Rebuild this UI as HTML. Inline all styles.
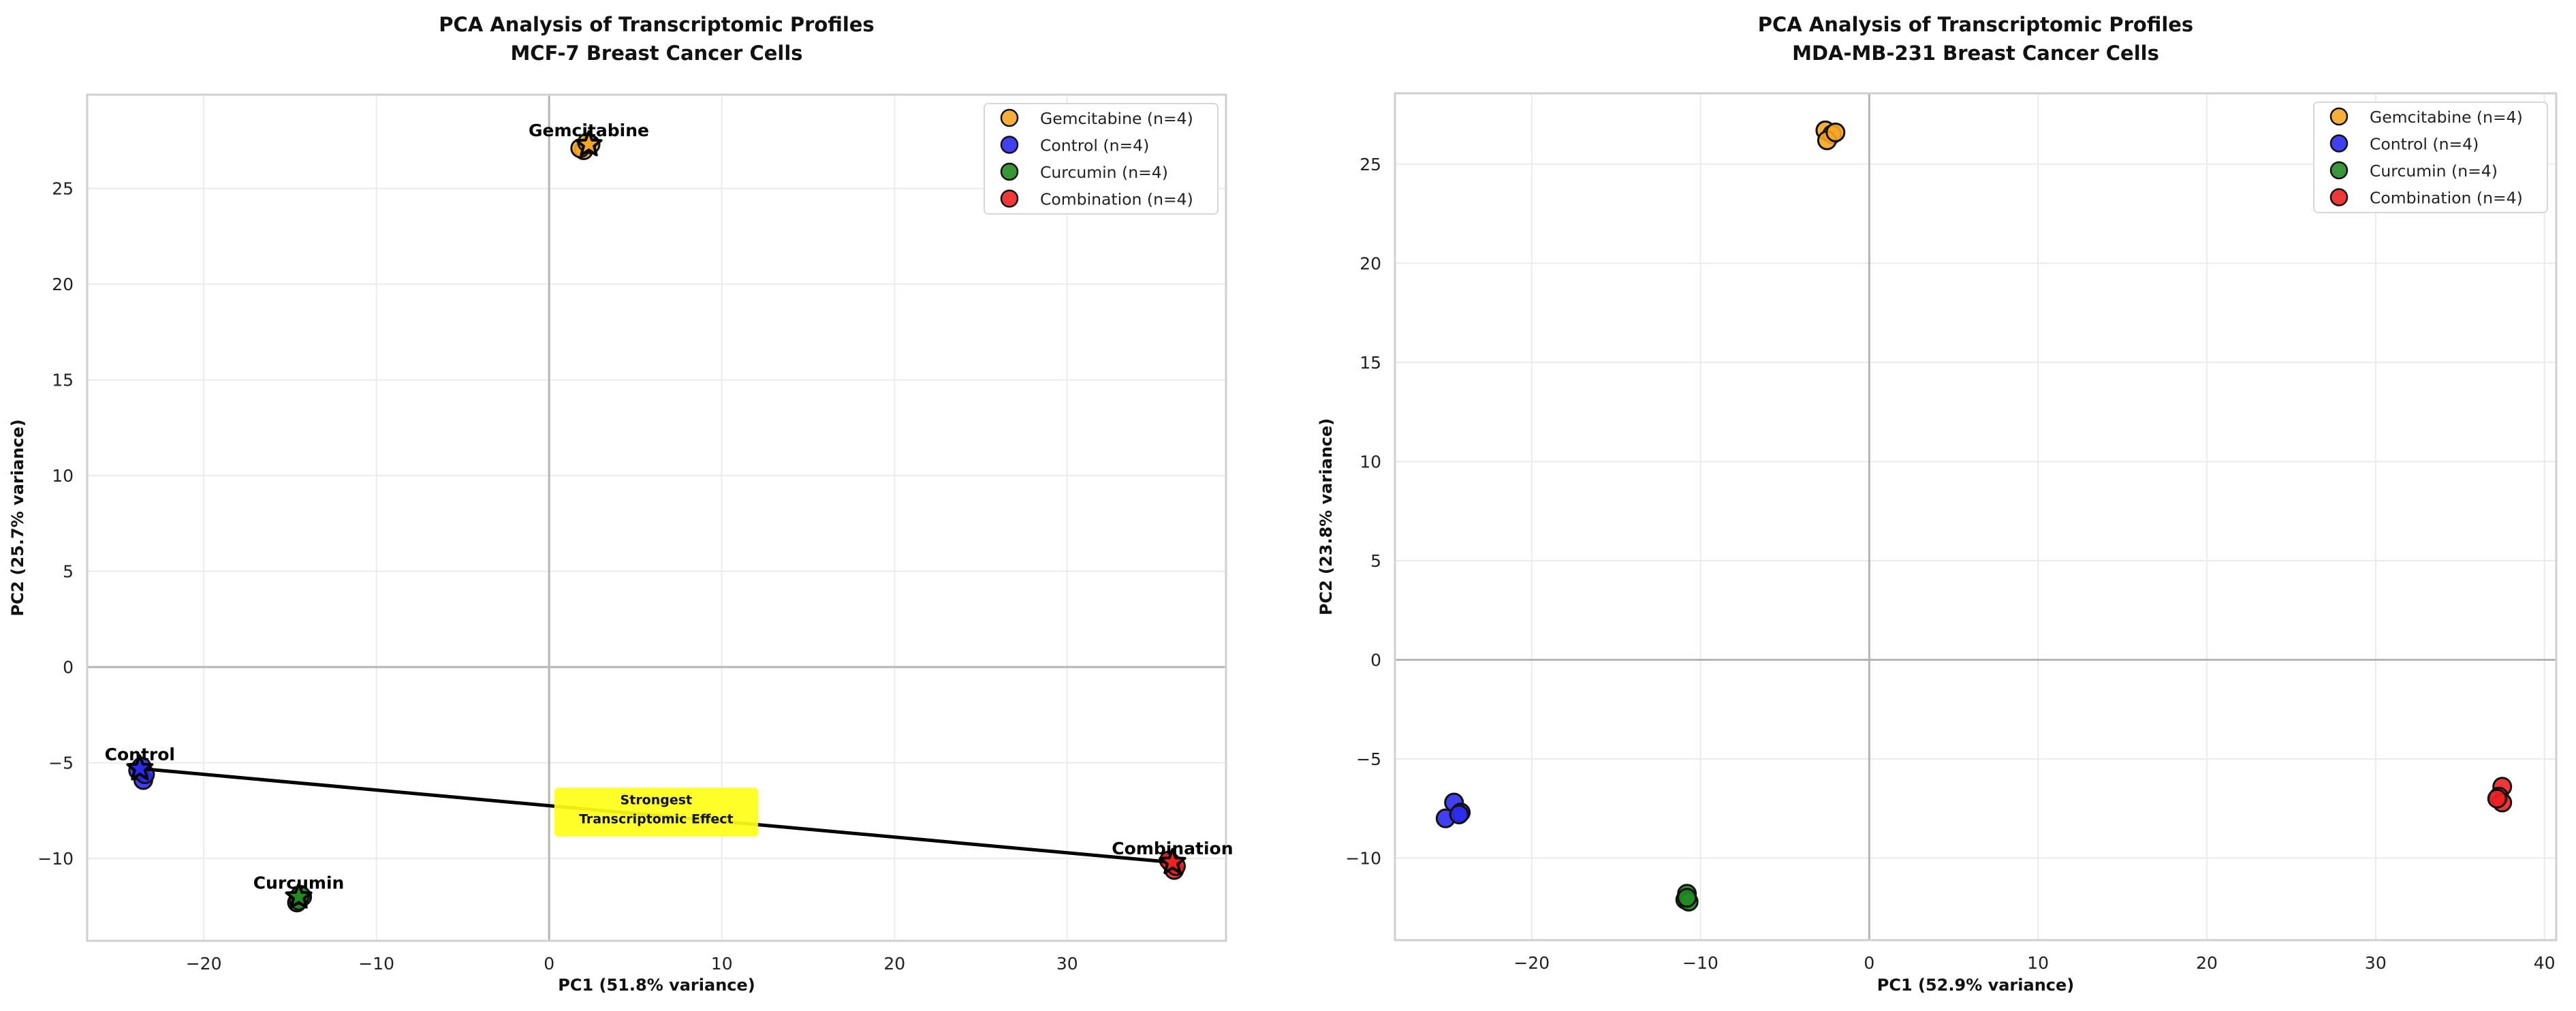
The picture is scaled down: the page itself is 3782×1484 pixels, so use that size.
<!DOCTYPE html>
<html><head><meta charset="utf-8"><style>
html,body{margin:0;padding:0;background:#fff;}
svg{display:block;font-family:"DejaVu Sans","Liberation Sans",sans-serif;}
</style></head>
<body>
<svg id="fig" width="3782" height="1484" viewBox="0 0 3782 1484" xmlns="http://www.w3.org/2000/svg">
<rect width="3782" height="1484" fill="#fff"/>
</svg>
<script>
const groups = ["Gemcitabine", "Control", "Curcumin", "Combination"];
const colors = ["#f5a623", "#2b2bf0", "#228b22", "#ee2222"];
const xTicksL = [-20, -10, 0, 10, 20, 30];
const yTicksL = [-10, -5, 0, 5, 10, 15, 20, 25];
const xTicksR = [-20, -10, 0, 10, 20, 30, 40];
const yTicksR = [-10, -5, 0, 5, 10, 15, 20, 25];
// MCF-7 sample points (PC1, PC2)
const mcfX = [[2.0, 2.4, 1.8, 2.2], [-23.5, -23.8, -23.6, -23.4], [-14.6, -14.3, -14.5, -14.4], [36.2, 36.0, 36.3, 35.9]];
const mcfY = [[27.0, 27.3, 27.1, 27.4], [-5.9, -5.4, -5.2, -5.6], [-12.3, -12.0, -12.2, -11.9], [-10.6, -10.2, -10.4, -10.1]];
// group centroids (stars) for MCF-7
const mcfCX = [2.3, -23.7, -14.5, 36.1];
const mcfCY = [27.3, -5.3, -12.0, -10.2];
// MDA-MB-231 sample points
const mdaX = [[-2.6, -2.2, -2.5, -2.0], [-24.6, -24.2, -25.1, -24.3], [-10.8, -10.9, -10.7, -10.8], [37.5, 37.3, 37.5, 37.2]];
const mdaY = [[26.7, 26.5, 26.2, 26.6], [-7.2, -7.7, -8.0, -7.8], [-11.8, -12.1, -12.2, -12.0], [-6.4, -6.9, -7.2, -7.0]];

const NS = "http://www.w3.org/2000/svg";
const svg = document.getElementById("fig");
function mk(tag, attrs, parent, text) {
  const e = document.createElementNS(NS, tag);
  for (const k in attrs) e.setAttribute(k, attrs[k]);
  if (text !== undefined) e.textContent = text;
  (parent || svg).appendChild(e);
  return e;
}
function starPts(cx, cy, R) {
  const r = R * 0.42; let p = [];
  for (let i = 0; i < 10; i++) {
    const a = -Math.PI / 2 + i * Math.PI / 5, rr = i % 2 ? r : R;
    p.push((cx + rr * Math.cos(a)).toFixed(1) + "," + (cy + rr * Math.sin(a)).toFixed(1));
  }
  return p.join(" ");
}

function panel(o) {
  const g = mk("g", {});
  
  
  const sx = v => o.x0 + (v - o.xmin) / (o.xmax - o.xmin) * (o.x1 - o.x0);
  const sy = v => o.y1 - (v - o.ymin) / (o.ymax - o.ymin) * (o.y1 - o.y0);
  // grid
  o.xt.forEach(t => {
    const l = mk("line", {x1: sx(t), x2: sx(t), y1: o.y0, y2: o.y1, stroke: "#ebebeb", "stroke-width": 2}, g);
    
    
    const tl = mk("text", {x: sx(t), y: o.y1 + 42, "font-size": 25, "text-anchor": "middle", fill: "#222"}, g, t < 0 ? "\u2212" + (-t) : String(t));
    
    
  });
  o.yt.forEach(t => {
    const l = mk("line", {x1: o.x0, x2: o.x1, y1: sy(t), y2: sy(t), stroke: "#ebebeb", "stroke-width": 2}, g);
    
    
    const tl = mk("text", {x: o.x0 - 20, y: sy(t) + 9, "font-size": 25, "text-anchor": "end", fill: "#222"}, g, t < 0 ? "\u2212" + (-t) : String(t));
    
    
  });
  // zero lines
  const zx = mk("line", {x1: sx(0), x2: sx(0), y1: o.y0, y2: o.y1, stroke: "#b5b5b5", "stroke-width": 3}, g);
  
  
  const zy = mk("line", {x1: o.x0, x2: o.x1, y1: sy(0), y2: sy(0), stroke: "#b5b5b5", "stroke-width": 3}, g);
  
  
  // frame
  const fr = mk("rect", {x: o.x0, y: o.y0, width: o.x1 - o.x0, height: o.y1 - o.y0, fill: "none", stroke: "#cfcfcf", "stroke-width": 3}, g);
  
  
  // titles
  const cx = (o.x0 + o.x1) / 2;
  const t1 = mk("text", {x: cx, y: 46, "font-size": 29, "font-weight": "bold", "text-anchor": "middle", fill: "#111"}, g, "PCA Analysis of Transcriptomic Profiles");
  
  
  const t2 = mk("text", {x: cx, y: 88, "font-size": 29, "font-weight": "bold", "text-anchor": "middle", fill: "#111"}, g, o.sub);
  
  
  const xl = mk("text", {x: cx, y: 1454, "font-size": 24, "font-weight": "bold", "text-anchor": "middle", fill: "#111"}, g, o.xlab);
  
  
  const ym = (o.y0 + o.y1) / 2;
  const yl = mk("text", {x: o.ylx, y: ym, "font-size": 24, "font-weight": "bold", "text-anchor": "middle", fill: "#111", transform: "rotate(-90 " + o.ylx + " " + ym + ")"}, g, o.ylab);
  
  
  return {g, sx, sy};
}

function points(P, X, Y) {
  X.forEach((xs, gi) => xs.forEach((xv, i) => {
    const c = mk("circle", {cx: P.sx(xv), cy: P.sy(Y[gi][i]), r: 13, fill: colors[gi], "fill-opacity": 0.9, stroke: "#111", "stroke-width": 3}, P.g);
    
    
  }));
}

function legend(P, lx, ly) {
  const b = mk("rect", {x: lx, y: ly, width: 343, height: 162, rx: 6, fill: "#fff", "fill-opacity": 0.9, stroke: "#d8d8d8", "stroke-width": 2}, P.g);
  
  
  groups.forEach((n, i) => {
    const y = ly + 21 + i * 39.5;
    const m = mk("circle", {cx: lx + 37, cy: y, r: 12, fill: colors[i], "fill-opacity": 0.9, stroke: "#111", "stroke-width": 2.5}, P.g);
    
    
    const t = mk("text", {x: lx + 82, y: y + 9, "font-size": 23.5, fill: "#222"}, P.g, n + " (n=4)");
    
    
  });
}

// Left panel
const L = panel({name: "mcf7-panel", x0: 128, x1: 1800, y0: 139, y1: 1381, xmin: -26.75, xmax: 39.2, ymin: -14.3, ymax: 29.9,
  xt: xTicksL, yt: yTicksL, sub: "MCF-7 Breast Cancer Cells", xlab: "PC1 (51.8% variance)", ylab: "PC2 (25.7% variance)", ylx: 34});
points(L, mcfX, mcfY);
// connecting line control -> combination
const ln = mk("line", {x1: L.sx(mcfCX[1]), y1: L.sy(mcfCY[1]), x2: L.sx(mcfCX[3]), y2: L.sy(mcfCY[3]), stroke: "#000", "stroke-width": 5}, L.g);


mcfCX.forEach((xv, gi) => {
  const s = mk("polygon", {points: starPts(L.sx(xv), L.sy(mcfCY[gi]), 19), fill: colors[gi], stroke: "#000", "stroke-width": 4, "stroke-linejoin": "round"}, L.g);
  
  
  const t = mk("text", {x: L.sx(xv), y: L.sy(mcfCY[gi]) - 12, "font-size": 25, "font-weight": "bold", "text-anchor": "middle", fill: "#000"}, L.g, groups[gi]);
  
  
});
const box = mk("rect", {x: L.sx(0.3), y: L.sy(-6.3), width: L.sx(12.1) - L.sx(0.3), height: L.sy(-8.85) - L.sy(-6.3), rx: 6, fill: "#ffff1a", "fill-opacity": 0.92}, L.g);


const a1 = mk("text", {x: L.sx(6.2), y: L.sy(-6.95) + 6, "font-size": 19, "font-weight": "bold", "text-anchor": "middle", fill: "#111"}, L.g, "Strongest");


const a2 = mk("text", {x: L.sx(6.2), y: L.sy(-7.95) + 6, "font-size": 19, "font-weight": "bold", "text-anchor": "middle", fill: "#111"}, L.g, "Transcriptomic Effect");


legend(L, 1445, 152);

// Right panel
const R = panel({name: "mda-panel", x0: 2048, x1: 3753, y0: 137, y1: 1380, xmin: -28.1, xmax: 40.7, ymin: -14.14, ymax: 28.57,
  xt: xTicksR, yt: yTicksR, sub: "MDA-MB-231 Breast Cancer Cells", xlab: "PC1 (52.9% variance)", ylab: "PC2 (23.8% variance)", ylx: 1955});
points(R, mdaX, mdaY);
legend(R, 3397, 150);
</script>
</body></html>
